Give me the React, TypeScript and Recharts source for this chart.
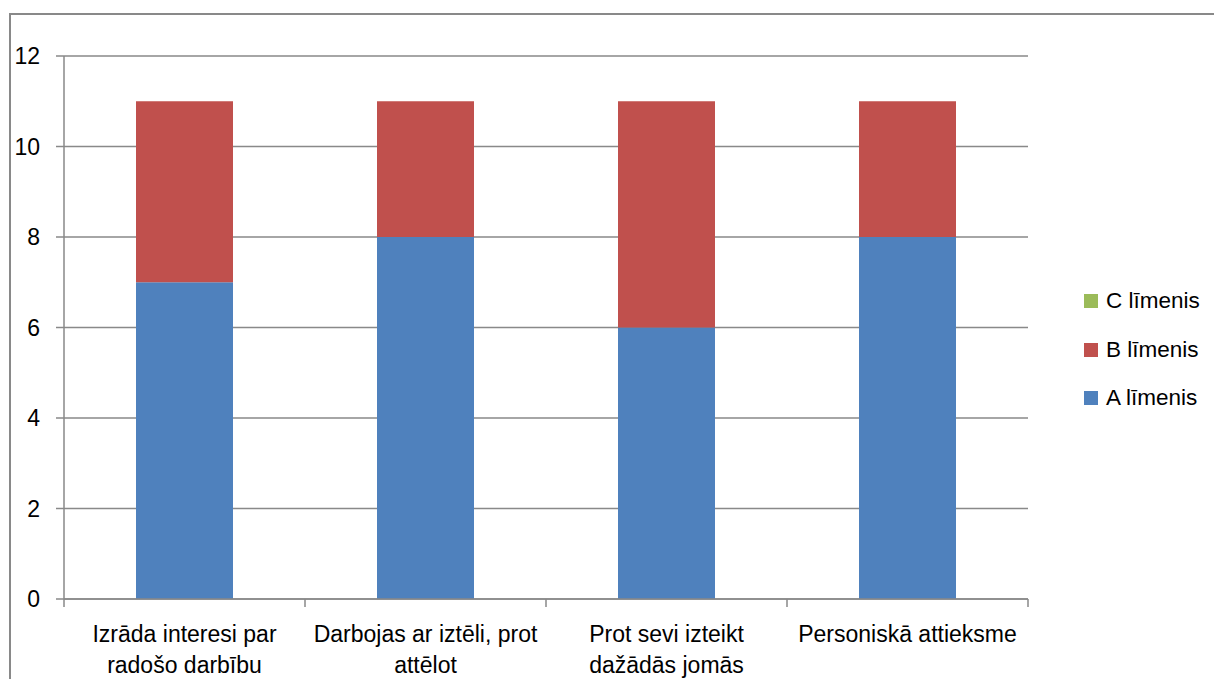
import { BarChart, Bar, XAxis, YAxis, CartesianGrid } from "recharts";

const categories = [
  "Izrāda interesi par\nradošo darbību",
  "Darbojas ar iztēli, prot\nattēlot",
  "Prot sevi izteikt\ndažādās jomās",
  "Personiskā attieksme",
];
const levelA = [7, 8, 6, 8];
const levelB = [4, 3, 5, 3];
const levelC = [0, 0, 0, 0];
const yTicks = [0, 2, 4, 6, 8, 10, 12];
// category edges (integers) and centres (halves) on the bottom axis
const xTicks = [0, 0.5, 1, 1.5, 2, 2.5, 3, 3.5, 4];

const seriesNames = ["A līmenis", "B līmenis", "C līmenis"];
const seriesKeys = ["a", "b", "c"];
const colors = ["#4f81bd", "#c0504d", "#9bbb59"];
const grey = "#898989";

const data = categories.map((name, i) => ({
  name,
  pos: i + 0.5,
  a: levelA[i],
  b: levelB[i],
  c: levelC[i],
}));

const EdgeTick = ({ x, y, payload }: any) => {
  const v = Number(payload.value);
  if (Number.isInteger(v)) {
    return <line x1={x} x2={x} y1={y} y2={y + 8} stroke={grey} strokeWidth={1.5} />;
  }
  const lines = categories[Math.floor(v)].split("\n");
  return (
    <g>
      {lines.map((l, i) => (
        <text key={i} x={x} y={y + 43 + i * 31} textAnchor="middle" fontSize={23} fill="#000">
          {l}
        </text>
      ))}
    </g>
  );
};

export default function App() {
  return (
    <div
      style={{
        position: "relative",
        marginTop: 5,
        marginLeft: 1,
        width: 1211,
        height: 664,
        borderTop: `2px solid ${grey}`,
        borderLeft: `2px solid ${grey}`,
        fontFamily: "'Liberation Sans', Arial, sans-serif",
      }}
    >
      <BarChart
        width={1211}
        height={664}
        data={data}
        margin={{ top: 41, right: 194, left: 0, bottom: 0 }}
        barSize={97}
      >
        <CartesianGrid xAxisId="cat" vertical={false} stroke={grey} strokeWidth={1.5} />
        <XAxis xAxisId="cat" dataKey="name" hide height={0} />
        <XAxis
          xAxisId="edges"
          type="number"
          dataKey="pos"
          domain={[0, 4]}
          ticks={xTicks}
          interval={0}
          height={80}
          tickLine={false}
          tickSize={0}
          tickMargin={0}
          tick={<EdgeTick />}
          stroke={grey}
          strokeWidth={1.5}
        />
        <YAxis
          width={53}
          domain={[0, 12]}
          ticks={yTicks}
          tickSize={8}
          tickMargin={16}
          stroke={grey}
          strokeWidth={1.5}
          tick={{ fill: "#000", fontSize: 23 }}
        />
        {seriesKeys.map((k, i) => (
          <Bar
            key={k}
            xAxisId="cat"
            dataKey={k}
            name={seriesNames[i]}
            stackId="s"
            fill={colors[i]}
            isAnimationActive={false}
          />
        ))}
      </BarChart>
      <div style={{ position: "absolute", left: 1073, top: 262 }}>
        {seriesNames
          .map((n, i) => ({ n, c: colors[i] }))
          .reverse()
          .map((s) => (
            <div key={s.n} style={{ display: "flex", alignItems: "center", height: 48.5, fontSize: 22.5 }}>
              <span style={{ width: 14, height: 14, background: s.c, marginRight: 8 }} />
              <span>{s.n}</span>
            </div>
          ))}
      </div>
    </div>
  );
}
